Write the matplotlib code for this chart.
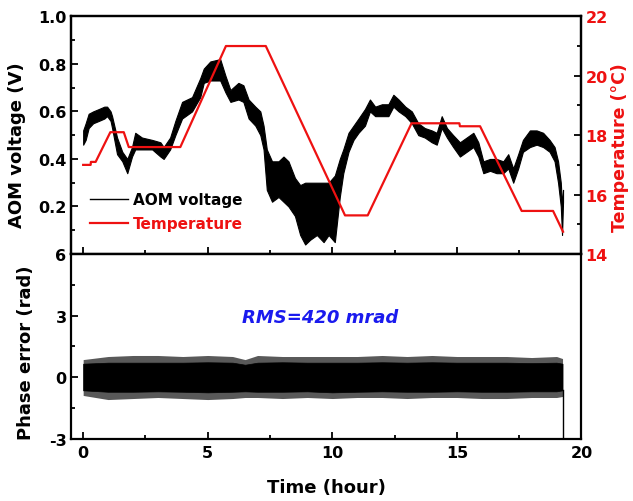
import matplotlib
matplotlib.use("Agg")
import matplotlib.pyplot as plt
from matplotlib.ticker import MultipleLocator

plt.rcParams['font.family'] = ['DejaVu Sans']
plt.rcParams['font.weight'] = 'bold'
plt.rcParams['axes.unicode_minus'] = False

# ---------------- data ----------------
aom_t = [0.00, 0.10, 0.22, 0.40, 0.63, 0.85, 0.96, 1.10, 1.16, 1.36, 1.57, 1.77, 1.96, 2.09,
         2.36, 2.77, 3.10, 3.23, 3.49, 3.70, 3.97, 4.37, 4.70, 4.84, 5.10, 5.50, 5.71, 5.91,
         6.23, 6.43, 6.64, 6.91, 7.11, 7.24, 7.37, 7.58, 7.84, 8.04, 8.24, 8.50, 8.71, 8.91,
         9.11, 9.38, 9.65, 9.85, 10.10, 10.30, 10.44, 10.65, 10.85, 11.05, 11.31, 11.51,
         11.72, 11.99, 12.25, 12.45, 12.66, 12.93, 13.19, 13.45, 13.71, 13.99, 14.19, 14.39,
         14.60, 14.85, 15.12, 15.39, 15.66, 15.86, 16.06, 16.33, 16.59, 16.86, 17.06, 17.26,
         17.46, 17.65, 17.93, 18.20, 18.46, 18.72, 18.92, 19.06, 19.17, 19.22, 19.26]
aom_low = [0.46, 0.48, 0.53, 0.55, 0.56, 0.57, 0.58, 0.56, 0.53, 0.42, 0.39, 0.34, 0.41, 0.44,
           0.44, 0.44, 0.41, 0.40, 0.44, 0.50, 0.57, 0.60, 0.66, 0.72, 0.73, 0.73, 0.68, 0.64,
           0.65, 0.64, 0.57, 0.54, 0.50, 0.44, 0.27, 0.22, 0.24, 0.22, 0.20, 0.16, 0.08, 0.04,
           0.06, 0.08, 0.05, 0.08, 0.05, 0.24, 0.34, 0.43, 0.48, 0.51, 0.54, 0.60,
           0.58, 0.58, 0.58, 0.62, 0.60, 0.58, 0.55, 0.50, 0.49, 0.47, 0.46, 0.53,
           0.49, 0.45, 0.41, 0.43, 0.45, 0.41, 0.34, 0.35, 0.34, 0.34, 0.36, 0.30,
           0.36, 0.43, 0.45, 0.46, 0.45, 0.43, 0.39, 0.30, 0.20, 0.08, 0.22]
aom_high = [0.52, 0.55, 0.59, 0.60, 0.61, 0.62, 0.62, 0.60, 0.58, 0.49, 0.43, 0.40, 0.45, 0.51,
            0.49, 0.48, 0.47, 0.45, 0.49, 0.56, 0.64, 0.66, 0.74, 0.78, 0.81, 0.82, 0.75, 0.69,
            0.72, 0.71, 0.65, 0.62, 0.60, 0.54, 0.44, 0.39, 0.39, 0.41, 0.39, 0.32, 0.29, 0.30,
            0.30, 0.30, 0.30, 0.30, 0.33, 0.40, 0.44, 0.51, 0.54, 0.57, 0.61, 0.65,
            0.62, 0.63, 0.63, 0.67, 0.65, 0.62, 0.60, 0.55, 0.53, 0.52, 0.51, 0.58,
            0.53, 0.50, 0.47, 0.49, 0.51, 0.47, 0.39, 0.40, 0.40, 0.39, 0.42, 0.36,
            0.42, 0.48, 0.52, 0.52, 0.51, 0.48, 0.45, 0.39, 0.30, 0.20, 0.27]

temp_t = [0.00, 0.30, 0.31, 0.50, 1.09, 1.63, 1.83, 3.90, 5.73, 7.33, 10.51, 11.42, 13.18,
          15.10, 15.12, 15.93, 17.60, 18.86, 19.26]
temp_v = [17.0, 17.0, 17.1, 17.1, 18.1, 18.1, 17.6, 17.6, 21.0, 21.0, 15.3, 15.3, 18.4,
          18.4, 18.3, 18.3, 15.45, 15.45, 14.75]

phase_t = [0.00, 1, 2, 3, 4, 5, 6, 6.5, 7, 8, 9, 10, 11, 12, 13, 14, 15, 16, 17, 18, 19, 19.24]
phase_spike_hi = [0.85, 1.0, 1.05, 1.05, 1.0, 1.05, 1.0, 0.85, 1.05, 1.0, 1.0, 1.0, 1.0, 1.05,
                  1.0, 1.05, 1.0, 1.0, 1.0, 0.95, 1.0, 0.9]
phase_spike_lo = [-0.9, -1.1, -1.05, -1.0, -1.05, -1.1, -1.05, -1.0, -1.0, -1.05, -1.0, -1.05,
                  -1.0, -1.0, -1.05, -1.0, -1.0, -1.05, -1.05, -1.0, -1.0, -0.95]
phase_core_hi = [0.65, 0.7, 0.7, 0.7, 0.7, 0.72, 0.7, 0.6, 0.7, 0.72, 0.7, 0.7, 0.7, 0.72,
                 0.7, 0.72, 0.7, 0.7, 0.7, 0.68, 0.7, 0.65]
phase_core_lo = [-0.65, -0.72, -0.72, -0.7, -0.72, -0.75, -0.72, -0.7, -0.72, -0.72, -0.7,
                 -0.75, -0.72, -0.7, -0.72, -0.72, -0.7, -0.72, -0.72, -0.7, -0.7, -0.65]
phase_end_drop = -3.0

x_ticks = [0, 5, 10, 15, 20]
aom_ticks = [0.2, 0.4, 0.6, 0.8, 1.0]
temp_ticks = [14, 16, 18, 20, 22]
phase_ticks = [-3, 0, 3, 6]
rms_text = "RMS=420 mrad"

# ---------------- figure ----------------
fig = plt.figure(figsize=(6.33, 5.02), dpi=100)
ax1 = fig.add_axes([0.1117, 0.492, 0.8069, 0.4735])
ax2 = fig.add_axes([0.1117, 0.1245, 0.8069, 0.3675])
ax1r = ax1.twinx()

RED = '#ee1111'
lw_sp = 1.6

# top panel
ax1.fill_between(aom_t, aom_low, aom_high, color='black', linewidth=0.8, edgecolor='black')
l1, = ax1.plot([], [], color='black', lw=1.0, label='AOM voltage')
l2, = ax1r.plot(temp_t, temp_v, color=RED, lw=1.6, label='Temperature')

ax1.set_xlim(-0.5, 20)
ax1.set_ylim(0, 1.0)
ax1r.set_ylim(14, 22)
ax1.set_yticks(aom_ticks)
ax1.yaxis.set_minor_locator(MultipleLocator(0.1))
ax1.set_xticks(x_ticks)
ax1.xaxis.set_minor_locator(MultipleLocator(2.5))
ax1.tick_params(axis='x', which='both', direction='in', bottom=True, top=False,
                labelbottom=False)
ax1.tick_params(axis='y', which='both', direction='in', left=True, right=False,
                labelsize=11.5, pad=3)
ax1.tick_params(which='major', length=5, width=1.3)
ax1.tick_params(which='minor', length=3, width=1.3)
ax1r.set_yticks(temp_ticks)
ax1r.yaxis.set_minor_locator(MultipleLocator(1))
ax1r.tick_params(axis='y', which='both', direction='in', colors='black',
                 labelcolor=RED, labelsize=11.5, pad=3)
ax1r.tick_params(which='major', length=5, width=1.3)
ax1r.tick_params(which='minor', length=3, width=1.3)

ax1.set_ylabel('AOM voltage (V)', fontsize=13, fontweight='bold')
ax1.yaxis.set_label_coords(-0.088, 0.46)
ax1r.set_ylabel('Temperature (\u00b0C)', fontsize=12.5, fontweight='bold', color=RED)
ax1r.yaxis.set_label_coords(1.058, 0.45)

leg = ax1.legend(handles=[l1, l2], loc='lower left', bbox_to_anchor=(0.038, 0.095),
                 frameon=False, fontsize=11, handlelength=2.5, handletextpad=0.3,
                 labelspacing=0.6, borderpad=0, borderaxespad=0)
leg.get_texts()[1].set_color(RED)

for ax in (ax1, ax1r, ax2):
    for s in ax.spines.values():
        s.set_linewidth(lw_sp)

# bottom panel
ax2.fill_between(phase_t, phase_spike_lo, phase_spike_hi, color='0.35', linewidth=0)
ax2.fill_between(phase_t, phase_core_lo, phase_core_hi, color='black', linewidth=0.5)
ax2.plot([phase_t[-1], phase_t[-1]], [phase_core_lo[-1], phase_end_drop], color='black', lw=1.0)
ax2.text(9.5, 2.95, rms_text, color='#1a1aee', fontsize=13, fontweight='bold',
         fontstyle='italic', ha='center', va='center')

ax2.set_xlim(-0.5, 20)
ax2.set_ylim(-3, 6)
ax2.set_xticks(x_ticks)
ax2.xaxis.set_minor_locator(MultipleLocator(2.5))
ax2.set_yticks(phase_ticks)
ax2.yaxis.set_minor_locator(MultipleLocator(1.5))
ax2.tick_params(which='both', direction='in', top=False, right=False, labelsize=11.5, pad=3)
ax2.tick_params(axis='x', pad=5)
ax2.tick_params(which='major', length=5, width=1.3)
ax2.tick_params(which='minor', length=3, width=1.3)
ax2.set_ylabel('Phase error (rad)', fontsize=13, fontweight='bold')
ax2.yaxis.set_label_coords(-0.07, 0.47)
ax2.set_xlabel('Time (hour)', fontsize=13, fontweight='bold')
ax2.xaxis.set_label_coords(0.5, -0.215)

fig.savefig('out.png', dpi=100)
